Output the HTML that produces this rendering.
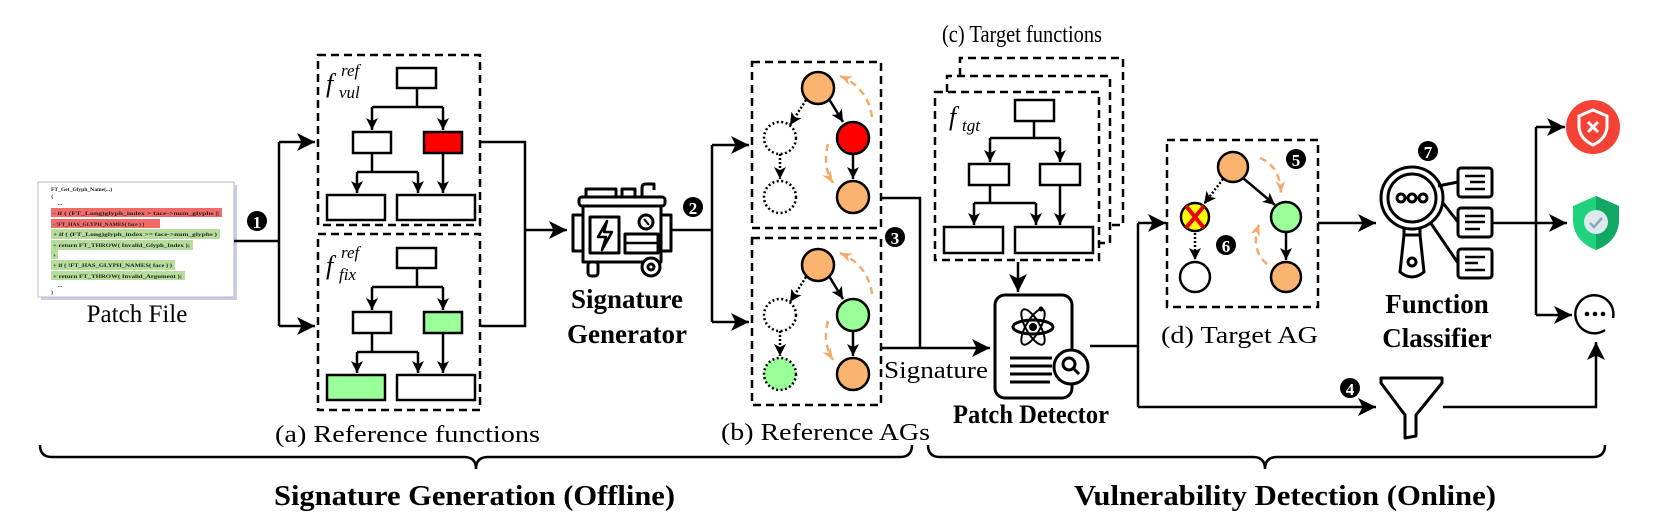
<!DOCTYPE html>
<html><head><meta charset="utf-8"><style>
html,body{margin:0;padding:0;background:#fff;}
svg{display:block;}
text{font-family:"Liberation Serif",serif;}
.mono{font-family:"Liberation Mono",monospace;font-size:5.6px;fill:#222;font-weight:bold;}
</style></head><body>
<svg width="1661" height="529" viewBox="0 0 1661 529" xmlns="http://www.w3.org/2000/svg">
<defs>
<marker id="ar" markerWidth="12" markerHeight="12" refX="10" refY="5" orient="auto" markerUnits="userSpaceOnUse" viewBox="0 0 10 10">
<path d="M0,0 L10,5 L0,10 L2.5,5 z" fill="#000"/></marker>
<marker id="ars" markerWidth="18" markerHeight="18" refX="10" refY="5" orient="auto" markerUnits="userSpaceOnUse" viewBox="0 0 10 10">
<path d="M0,0 L10,5 L0,10 L2.5,5 z" fill="#000"/></marker>
<marker id="ao" markerWidth="12" markerHeight="12" refX="10" refY="5" orient="auto" markerUnits="userSpaceOnUse" viewBox="0 0 10 10">
<path d="M0,1 L10,5 L0,9 L3,5 z" fill="#f5a96a"/></marker>
</defs>

<!-- Patch file -->
<rect x="41" y="185" width="196" height="115" fill="#c8cdee"/>
<rect x="38" y="182" width="196" height="115" fill="#fff" stroke="#bbb" stroke-width="1"/>
<rect x="51" y="208" width="171" height="9" fill="#f26b6b"/>
<rect x="51" y="219" width="109" height="9" fill="#f26b6b"/>
<rect x="51" y="229" width="169" height="10" fill="#b6dd9c"/>
<rect x="51" y="240" width="142" height="10" fill="#b6dd9c"/>
<rect x="51" y="250" width="7" height="9" fill="#b6dd9c"/>
<rect x="51" y="260" width="124" height="10" fill="#b6dd9c"/>
<rect x="51" y="271" width="134" height="9" fill="#b6dd9c"/>
<g class="mono">
<text x="51" y="191">FT_Get_Glyph_Name(...)</text>
<text x="51" y="198">{</text>
<text x="58" y="205">...</text>
<text x="53" y="215" textLength="166" lengthAdjust="spacingAndGlyphs">- if ( (FT_Long)glyph_index &gt; face-&gt;num_glyphs ||</text>
<text x="53" y="226">- !FT_HAS_GLYPH_NAMES( face ) )</text>
<text x="53" y="236" textLength="164" lengthAdjust="spacingAndGlyphs">+ if ( (FT_Long)glyph_index &gt;= face-&gt;num_glyphs )</text>
<text x="53" y="247" textLength="137" lengthAdjust="spacingAndGlyphs">+ return FT_THROW( Invalid_Glyph_Index );</text>
<text x="53" y="257">+</text>
<text x="53" y="267" textLength="119" lengthAdjust="spacingAndGlyphs">+ if ( !FT_HAS_GLYPH_NAMES( face ) )</text>
<text x="53" y="278" textLength="129" lengthAdjust="spacingAndGlyphs">+ return FT_THROW( Invalid_Argument );</text>
<text x="58" y="287">...</text>
<text x="51" y="294">}</text>
</g>
<text x="137" y="322" font-size="25" text-anchor="middle">Patch File</text>

<!-- badge 1 and connectors -->
<path d="M234,241 H279 M279,142 V326" stroke="#000" stroke-width="2.5" fill="none"/>
<path d="M279,142 H315" stroke="#000" stroke-width="2.5" marker-end="url(#ars)"/>
<path d="M279,326 H315" stroke="#000" stroke-width="2.5" marker-end="url(#ars)"/>
<circle cx="257" cy="221" r="10" fill="#000"/><text x="257" y="228" font-size="17" font-weight="bold" fill="#fff" text-anchor="middle">1</text>

<!-- Reference functions -->
<g stroke="#000" stroke-width="2.5" fill="none">
<rect x="318" y="55" width="162" height="170" stroke-dasharray="8 5"/>
<rect x="318" y="234" width="162" height="176" stroke-dasharray="8 5"/>
</g>
<g stroke="#000" stroke-width="2.5">
<rect x="397" y="68" width="39" height="20" fill="#fff"/>
<rect x="353" y="132" width="38" height="21" fill="#fff"/>
<rect x="327" y="195" width="58" height="25" fill="#fff"/>
<rect x="397" y="195" width="78" height="25" fill="#fff"/>
<path d="M417,88 V107 M372,107 H443" fill="none"/>
<path d="M372,107 V130" marker-end="url(#ar)" fill="none"/>
<path d="M443,107 V130" marker-end="url(#ar)" fill="none"/>
<path d="M372,153 V172 M357,172 H418" fill="none"/>
<path d="M357,172 V193" marker-end="url(#ar)" fill="none"/>
<path d="M418,172 V193" marker-end="url(#ar)" fill="none"/>
<path d="M443,153 V193" marker-end="url(#ar)" fill="none"/>
</g>
<rect x="424" y="132" width="38" height="21" fill="#f00" stroke="#000" stroke-width="2.5"/>
<g stroke="#000" stroke-width="2.5" transform="translate(0,180)">
<rect x="397" y="68" width="39" height="20" fill="#fff"/>
<rect x="353" y="132" width="38" height="21" fill="#fff"/>
<rect x="327" y="195" width="58" height="25" fill="#9f9"/>
<rect x="397" y="195" width="78" height="25" fill="#fff"/>
<rect x="424" y="132" width="38" height="21" fill="#9f9"/>
<path d="M417,88 V107 M372,107 H443" fill="none"/>
<path d="M372,107 V130" marker-end="url(#ar)" fill="none"/>
<path d="M443,107 V130" marker-end="url(#ar)" fill="none"/>
<path d="M372,153 V172 M357,172 H418" fill="none"/>
<path d="M357,172 V193" marker-end="url(#ar)" fill="none"/>
<path d="M418,172 V193" marker-end="url(#ar)" fill="none"/>
<path d="M443,153 V193" marker-end="url(#ar)" fill="none"/>
</g>
<text x="326" y="92" font-size="26" font-style="italic">f</text>
<text x="341" y="76" font-size="17" font-style="italic">ref</text>
<text x="339" y="98" font-size="17" font-style="italic">vul</text>
<text x="326" y="274" font-size="26" font-style="italic">f</text>
<text x="341" y="258" font-size="17" font-style="italic">ref</text>
<text x="339" y="280" font-size="17" font-style="italic">fix</text>
<text x="275" y="442" font-size="24" textLength="265" lengthAdjust="spacingAndGlyphs">(a) Reference functions</text>

<!-- to generator -->
<path d="M481,142 H525 V326 H481" stroke="#000" stroke-width="2.5" fill="none"/>
<path d="M525,230 H567" stroke="#000" stroke-width="2.5" marker-end="url(#ars)"/>

<!-- generator icon -->
<g stroke="#000" stroke-width="3" fill="#fff" stroke-linejoin="round">
<rect x="586" y="189" width="30" height="8"/>
<rect x="622" y="189" width="13" height="8"/>
<path d="M642,197 V188 Q642,184 646,184 H654 V190" fill="none"/>
<rect x="579" y="197" width="86" height="9" rx="3"/>
<rect x="573" y="215" width="10" height="36"/>
<rect x="661" y="215" width="10" height="36"/>
<rect x="583" y="206" width="78" height="56"/>
<rect x="590" y="217" width="29" height="36"/>
<path d="M607,221 L598,237 H606 L602,250 L612,232 H604 Z" fill="none" stroke-width="2.5"/>
<circle cx="646" cy="222" r="7"/>
<path d="M644,219 L649,225" stroke-width="2"/>
<rect x="625" y="234" width="33" height="19"/>
<path d="M625,243 H658" stroke-width="2.5"/>
<rect x="588" y="262" width="10" height="14" rx="3"/>
<circle cx="651" cy="267" r="9"/>
<circle cx="651" cy="267" r="3"/>
</g>
<text x="627" y="308" font-size="27" font-weight="bold" text-anchor="middle">Signature</text>
<text x="627" y="343" font-size="27" font-weight="bold" text-anchor="middle">Generator</text>

<!-- badge 2 -->
<circle cx="693" cy="207" r="10" fill="#000"/><text x="693" y="214" font-size="17" font-weight="bold" fill="#fff" text-anchor="middle">2</text>
<path d="M672,230 H712 M712,145 V322" stroke="#000" stroke-width="2.5" fill="none"/>
<path d="M712,145 H749" stroke="#000" stroke-width="2.5" marker-end="url(#ars)"/>
<path d="M712,322 H749" stroke="#000" stroke-width="2.5" marker-end="url(#ars)"/>

<!-- Reference AGs -->
<g stroke="#000" stroke-width="2.5" fill="none" stroke-dasharray="8 5">
<rect x="752" y="62" width="129" height="166"/>
<rect x="752" y="238" width="129" height="167"/>
</g>
<g>
<path d="M806,100 L790,125" stroke="#000" stroke-width="2.5" stroke-dasharray="2 2" marker-end="url(#ar)"/>
<path d="M780,154 V179" stroke="#000" stroke-width="2.5" stroke-dasharray="2 2" marker-end="url(#ar)"/>
<path d="M829,99 L843,122" stroke="#000" stroke-width="2.5" marker-end="url(#ar)"/>
<path d="M853,154 V179" stroke="#000" stroke-width="2.5" marker-end="url(#ar)"/>
<path d="M872,117 Q868,88 840,76" stroke="#f5a96a" stroke-width="2.5" fill="none" stroke-dasharray="7 5" marker-end="url(#ao)"/>
<path d="M828,144 Q822,166 833,183" stroke="#f5a96a" stroke-width="2.5" fill="none" stroke-dasharray="7 5" marker-end="url(#ao)"/>
<circle cx="818" cy="88" r="16" fill="#fab46f" stroke="#000" stroke-width="2.5"/>
<circle cx="780" cy="138" r="16" fill="#fff" stroke="#000" stroke-width="2.5" stroke-dasharray="2 2.5"/>
<circle cx="780" cy="197" r="16" fill="#fff" stroke="#000" stroke-width="2.5" stroke-dasharray="2 2.5"/>
<circle cx="853" cy="138" r="16" fill="#f00" stroke="#000" stroke-width="2.5"/>
<circle cx="853" cy="197" r="16" fill="#fab46f" stroke="#000" stroke-width="2.5"/>
</g>
<g transform="translate(0,177)">
<path d="M806,100 L790,125" stroke="#000" stroke-width="2.5" stroke-dasharray="2 2" marker-end="url(#ar)"/>
<path d="M780,154 V179" stroke="#000" stroke-width="2.5" stroke-dasharray="2 2" marker-end="url(#ar)"/>
<path d="M829,99 L843,122" stroke="#000" stroke-width="2.5" marker-end="url(#ar)"/>
<path d="M853,154 V179" stroke="#000" stroke-width="2.5" marker-end="url(#ar)"/>
<path d="M872,117 Q868,88 840,76" stroke="#f5a96a" stroke-width="2.5" fill="none" stroke-dasharray="7 5" marker-end="url(#ao)"/>
<path d="M828,144 Q822,166 833,183" stroke="#f5a96a" stroke-width="2.5" fill="none" stroke-dasharray="7 5" marker-end="url(#ao)"/>
<circle cx="818" cy="88" r="16" fill="#fab46f" stroke="#000" stroke-width="2.5"/>
<circle cx="780" cy="138" r="16" fill="#fff" stroke="#000" stroke-width="2.5" stroke-dasharray="2 2.5"/>
<circle cx="780" cy="197" r="16" fill="#9f9" stroke="#000" stroke-width="2.5" stroke-dasharray="2 2.5"/>
<circle cx="853" cy="138" r="16" fill="#9f9" stroke="#000" stroke-width="2.5"/>
<circle cx="853" cy="197" r="16" fill="#fab46f" stroke="#000" stroke-width="2.5"/>
</g>
<text x="721" y="440" font-size="24" textLength="209" lengthAdjust="spacingAndGlyphs">(b) Reference AGs</text>

<!-- badge 3 and signature -->
<circle cx="895" cy="237" r="10" fill="#000"/><text x="895" y="244" font-size="17" font-weight="bold" fill="#fff" text-anchor="middle">3</text>
<path d="M881,198 H920 V348 M881,348 H920" stroke="#000" stroke-width="2.5" fill="none"/>
<path d="M920,348 H990" stroke="#000" stroke-width="2.5" marker-end="url(#ars)"/>
<text x="884" y="378" font-size="24" textLength="104" lengthAdjust="spacingAndGlyphs">Signature</text>

<!-- Target functions -->
<text x="942" y="42" font-size="24" textLength="160" lengthAdjust="spacingAndGlyphs">(c) Target functions</text>
<g stroke="#000" stroke-width="2.5" fill="none" stroke-dasharray="8 5">
<path d="M960,76 V58 H1123 V225 H1110"/>
<path d="M947,92 V76 H1110 V243 H1099"/>
<rect x="935" y="92" width="164" height="168"/>
</g>
<g stroke="#000" stroke-width="2.5">
<rect x="1015" y="100" width="39" height="21" fill="#fff"/>
<rect x="969" y="164" width="40" height="21" fill="#fff"/>
<rect x="1040" y="164" width="40" height="21" fill="#fff"/>
<rect x="944" y="227" width="59" height="26" fill="#fff"/>
<rect x="1015" y="227" width="78" height="26" fill="#fff"/>
<path d="M1034,121 V138 M990,138 H1060" fill="none"/>
<path d="M990,138 V162" marker-end="url(#ar)" fill="none"/>
<path d="M1060,138 V162" marker-end="url(#ar)" fill="none"/>
<path d="M990,185 V203 M974,203 H1036" fill="none"/>
<path d="M974,203 V225" marker-end="url(#ar)" fill="none"/>
<path d="M1036,203 V225" marker-end="url(#ar)" fill="none"/>
<path d="M1060,185 V225" marker-end="url(#ar)" fill="none"/>
<path d="M1018,262 V292" marker-end="url(#ars)" fill="none"/>
</g>
<text x="949" y="125" font-size="26" font-style="italic">f</text>
<text x="962" y="131" font-size="17" font-style="italic">tgt</text>

<!-- Patch detector icon -->
<g stroke="#000" stroke-width="3" fill="none">
<rect x="995" y="295" width="77" height="103" rx="10" fill="#fff"/>
<ellipse cx="1033" cy="327" rx="20" ry="7"/>
<ellipse cx="1033" cy="327" rx="20" ry="7" transform="rotate(60 1033 327)" stroke-width="2"/>
<ellipse cx="1033" cy="327" rx="20" ry="7" transform="rotate(-60 1033 327)" stroke-width="2"/>
<path d="M1010,358 H1052 M1010,366 H1052 M1010,374 H1052 M1010,382 H1050"/>
<circle cx="1071" cy="367" r="17" fill="#fff"/>
<circle cx="1069" cy="364" r="6"/>
<path d="M1073,368 L1079,374"/>
</g>
<circle cx="1033" cy="327" r="4" fill="#000"/>
<circle cx="1041" cy="309" r="2.5" fill="#000"/>
<text x="953" y="423" font-size="26" font-weight="bold" textLength="156" lengthAdjust="spacingAndGlyphs">Patch Detector</text>

<!-- detector out -->
<path d="M1090,346 H1138 M1138,223 V407" stroke="#000" stroke-width="2.5" fill="none"/>
<path d="M1138,223 H1166" stroke="#000" stroke-width="2.5" marker-end="url(#ars)"/>
<path d="M1138,407 H1376" stroke="#000" stroke-width="2.5" marker-end="url(#ars)"/>

<!-- Target AG -->
<rect x="1167" y="140" width="151" height="167" stroke="#000" stroke-width="2.5" fill="none" stroke-dasharray="8 5"/>
<path d="M1223,179 L1204,204" stroke="#000" stroke-width="2.5" stroke-dasharray="2 2" marker-end="url(#ar)"/>
<path d="M1195,233 V260" stroke="#000" stroke-width="2.5" stroke-dasharray="2 2" marker-end="url(#ar)"/>
<path d="M1243,178 L1275,205" stroke="#000" stroke-width="2.5" marker-end="url(#ar)"/>
<path d="M1286,233 V260" stroke="#000" stroke-width="2.5" marker-end="url(#ar)"/>
<path d="M1260,158 Q1280,166 1281,193" stroke="#f5a96a" stroke-width="2.5" fill="none" stroke-dasharray="7 5" marker-end="url(#ao)"/>
<path d="M1267,264 Q1250,250 1259,224" stroke="#f5a96a" stroke-width="2.5" fill="none" stroke-dasharray="7 5" marker-end="url(#ao)"/>
<circle cx="1233" cy="167" r="15" fill="#fab46f" stroke="#000" stroke-width="2.5"/>
<circle cx="1195" cy="217" r="14" fill="#ff0" stroke="#000" stroke-width="2.5"/>
<path d="M1186,206 L1204,228 M1204,206 L1186,228" stroke="#e00" stroke-width="4"/>
<circle cx="1286" cy="217" r="15" fill="#9f9" stroke="#000" stroke-width="2.5"/>
<circle cx="1195" cy="277" r="15" fill="#fff" stroke="#000" stroke-width="2.5"/>
<circle cx="1286" cy="277" r="15" fill="#fab46f" stroke="#000" stroke-width="2.5"/>
<circle cx="1296" cy="159" r="10" fill="#000"/><text x="1296" y="166" font-size="17" font-weight="bold" fill="#fff" text-anchor="middle">5</text>
<circle cx="1226" cy="245" r="10" fill="#000"/><text x="1226" y="252" font-size="17" font-weight="bold" fill="#fff" text-anchor="middle">6</text>
<text x="1161" y="343" font-size="24" textLength="157" lengthAdjust="spacingAndGlyphs">(d) Target AG</text>
<path d="M1318,223 H1376" stroke="#000" stroke-width="2.5" marker-end="url(#ars)"/>

<!-- Function classifier -->
<g stroke="#000" stroke-width="3" fill="none">
<circle cx="1412" cy="198" r="31"/>
<circle cx="1412" cy="198" r="24"/>
<circle cx="1401" cy="198" r="4"/><circle cx="1412" cy="198" r="4"/><circle cx="1423" cy="198" r="4"/>
<path d="M1404,229 V235 H1420 V229 M1404,235 L1400,272 Q1412,282 1424,272 L1420,235"/>
<circle cx="1412" cy="262" r="4"/>
<path d="M1438,186 L1458,182 M1443,203 L1458,222 M1430,222 L1458,263"/>
<rect x="1458" y="168" width="34" height="29" rx="3"/>
<rect x="1458" y="208" width="34" height="29" rx="3"/>
<rect x="1458" y="249" width="34" height="29" rx="3"/>
<path d="M1465,176 H1485 M1470,182 H1485 M1465,189 H1485 M1465,216 H1485 M1465,222 H1485 M1465,229 H1480 M1465,257 H1485 M1465,263 H1478 M1465,270 H1485" stroke-width="2.5"/>
</g>
<circle cx="1428" cy="151" r="10" fill="#000"/><text x="1428" y="158" font-size="17" font-weight="bold" fill="#fff" text-anchor="middle">7</text>
<text x="1437" y="313" font-size="27" font-weight="bold" text-anchor="middle">Function</text>
<text x="1437" y="347" font-size="27" font-weight="bold" text-anchor="middle">Classifier</text>

<path d="M1492,223 H1536 M1536,127 V315" stroke="#000" stroke-width="2.5" fill="none"/>
<path d="M1536,127 H1565" stroke="#000" stroke-width="2.5" marker-end="url(#ars)"/>
<path d="M1536,223 H1567" stroke="#000" stroke-width="2.5" marker-end="url(#ars)"/>
<path d="M1536,315 H1572" stroke="#000" stroke-width="2.5" marker-end="url(#ars)"/>

<!-- outputs -->
<circle cx="1593" cy="127" r="27" fill="#f44336"/>
<path d="M1593,110 L1607,116 V127 Q1606,139 1593,145 Q1580,139 1579,127 V116 Z" fill="none" stroke="#fff" stroke-width="3"/>
<path d="M1588,122 L1598,132 M1598,122 L1588,132" stroke="#fff" stroke-width="3"/>
<path d="M1596,196 L1619,206 V222 Q1617,242 1596,250 Q1575,242 1573,222 V206 Z" fill="#1fd27c"/>
<path d="M1596,196 L1619,206 V222 Q1617,242 1596,250 Z" fill="#10a862"/>
<circle cx="1596" cy="222" r="12" fill="#dde9ee"/>
<path d="M1590,223 L1594,227 L1602,218" stroke="#8ab" stroke-width="2.5" fill="none"/>
<path d="M1605,330 A19,19 0 1 1 1613,318" stroke="#000" stroke-width="2.5" fill="none"/>
<circle cx="1587" cy="314" r="2.3"/><circle cx="1595" cy="314" r="2.3"/><circle cx="1603" cy="314" r="2.3"/>

<!-- funnel -->
<path d="M1381,378 H1442 V383 L1416,415 V436 L1405,438 V415 L1381,383 Z" fill="#fff" stroke="#000" stroke-width="3" stroke-linejoin="round"/>
<circle cx="1350" cy="388" r="10" fill="#000"/><text x="1350" y="395" font-size="17" font-weight="bold" fill="#fff" text-anchor="middle">4</text>
<path d="M1443,407 H1596 V342" stroke="#000" stroke-width="2.5" fill="none" marker-end="url(#ars)"/>

<!-- braces -->
<path d="M40,445 Q40,457 52,457 H464 Q476,457 476,469 Q476,457 488,457 H900 Q912,457 912,445" stroke="#000" stroke-width="2.5" fill="none"/>
<path d="M928,445 Q928,457 940,457 H1253 Q1265,457 1265,469 Q1265,457 1277,457 H1593 Q1605,457 1605,445" stroke="#000" stroke-width="2.5" fill="none"/>
<text x="274" y="505" font-size="28" font-weight="bold" textLength="401" lengthAdjust="spacingAndGlyphs">Signature Generation (Offline)</text>
<text x="1074" y="505" font-size="28" font-weight="bold" textLength="422" lengthAdjust="spacingAndGlyphs">Vulnerability Detection (Online)</text>
</svg>
</body></html>
